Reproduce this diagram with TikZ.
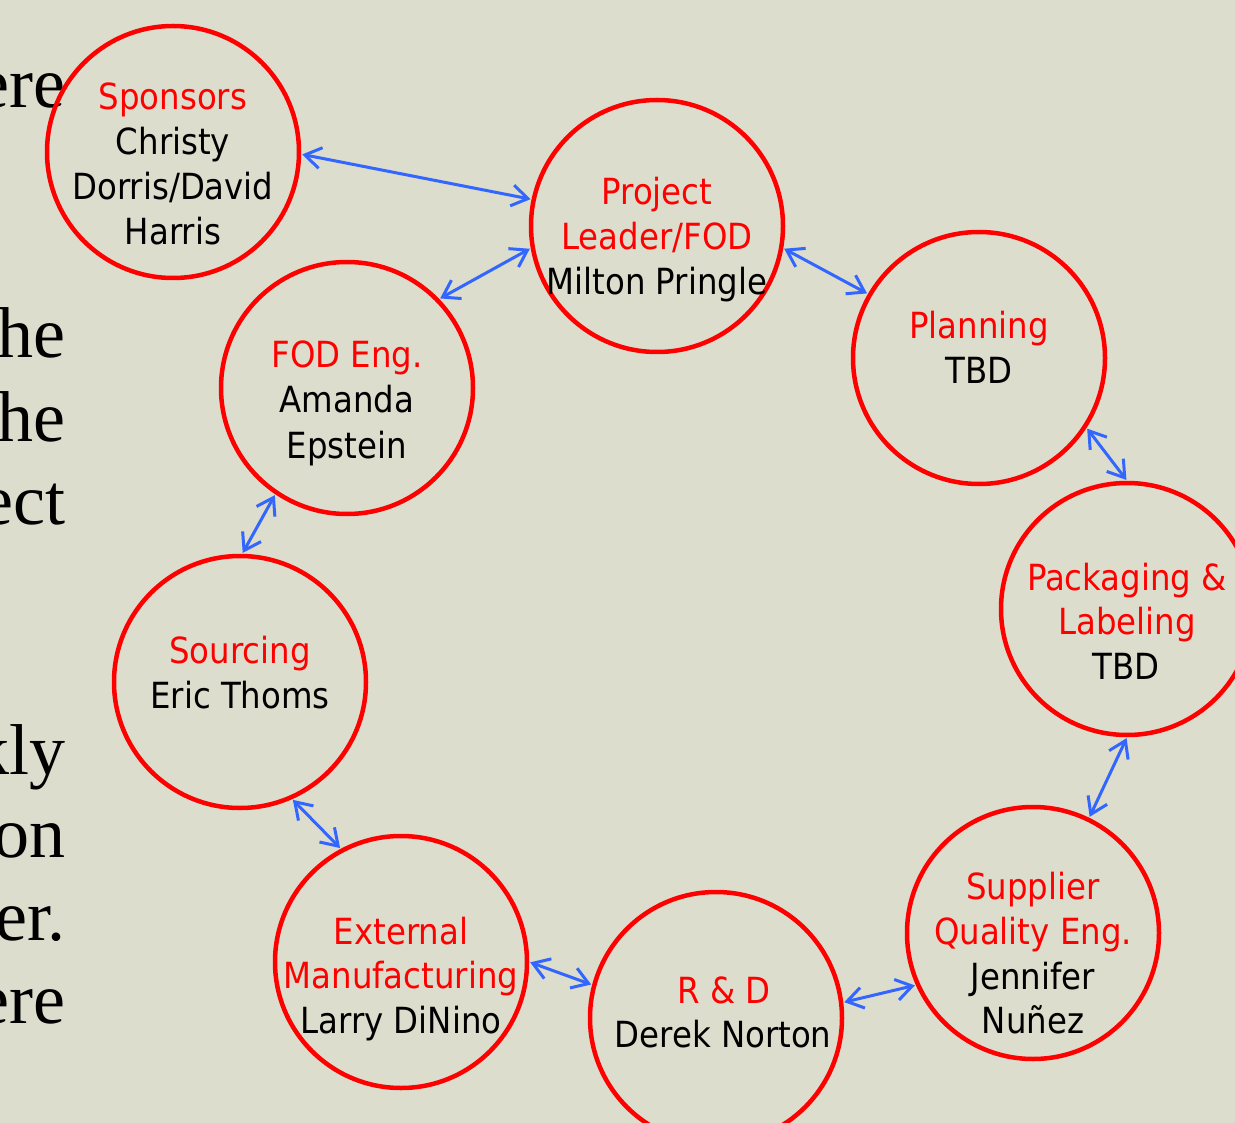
\documentclass[tikz,border=0pt]{standalone}
\usepackage{fontspec}
\setmainfont{DejaVu Sans Condensed}
\newfontfamily\bgserif{Liberation Serif}
\usetikzlibrary{arrows.meta}
\definecolor{bg}{RGB}{220,221,204}
\definecolor{lk}{RGB}{51,102,255}
\begin{document}
\begin{tikzpicture}[x=1pt,y=-1pt,
  ring/.style={circle,draw=red,line width=4.5pt,minimum size=252pt,inner sep=0pt},
  role/.style={anchor=base,text=red,font=\fontsize{36}{36}\selectfont,inner sep=0pt},
  who/.style={anchor=base,text=black,font=\fontsize{36}{36}\selectfont,inner sep=0pt},
  conn/.style={draw=lk,line width=3pt,{Straight Barb[length=16pt,width=21pt]}-{Straight Barb[length=16pt,width=21pt]},shorten <=1pt,shorten >=1pt},
  bgtext/.style={anchor=base east,font=\bgserif\fontsize{72}{72}\selectfont,inner sep=0pt}]
\fill[bg] (0,0) rectangle (1235,1123);
\clip (0,0) rectangle (1235,1123);
\useasboundingbox (0,0) rectangle (1235,1123);
% background slide text fragments
\node[bgtext] (b1) at (66,108) {ere};
\node[bgtext] (b2) at (66,358) {he};
\node[bgtext] (b3) at (66,441) {he};
\node[bgtext] (b4) at (66,524) {ect};
\node[bgtext] (b5) at (66,774) {kly};
\node[bgtext] (b6) at (66,857) {on};
\node[bgtext] (b7) at (66,940) {er.};
\node[bgtext] (b8) at (66,1023) {ere};
% circles
\node[ring] (sp) at (173,152) {};
\node[ring] (pl) at (657,226) {};
\node[ring] (pn) at (979,358) {};
\node[ring] (pk) at (1127,609) {};
\node[ring] (sq) at (1033,933) {};
\node[ring] (rd) at (716,1018) {};
\node[ring] (em) at (401,962) {};
\node[ring] (so) at (240,682) {};
\node[ring] (fe) at (347,388) {};
% texts
\node[role] (sp1) at (173,110) {Sponsors};
\node[who] (sp2) at (173,155) {Christy};
\node[who] (sp3) at (173,200) {Dorris/David};
\node[who] (sp4) at (173,245) {Harris};
\node[role] (pl1) at (657,205) {Project};
\node[role] (pl2) at (657,250) {Leader/FOD};
\node[who] (pl3) at (657,295) {Milton Pringle};
\node[role] (pn1) at (979,339) {Planning};
\node[who] (pn2) at (979,384) {TBD};
\node[role] (pk1) at (1127,590) {Packaging \&};
\node[role] (pk2) at (1127,634) {Labeling};
\node[who] (pk3) at (1126,679) {TBD};
\node[role] (sq1) at (1033,899) {Supplier};
\node[role] (sq2) at (1033,944) {Quality Eng.};
\node[who] (sq3) at (1033,989) {Jennifer};
\node[who] (sq4) at (1033,1033) {Nuñez};
\node[role] (rd1) at (724,1003) {R \& D};
\node[who] (rd2) at (723,1047) {Derek Norton};
\node[role] (em1) at (401,944) {External};
\node[role] (em2) at (401,988) {Manufacturing};
\node[who] (em3) at (401,1033) {Larry DiNino};
\node[role] (so1) at (240,663) {Sourcing};
\node[who] (so2) at (240,708) {Eric Thoms};
\node[role] (fe1) at (347,368) {FOD Eng.};
\node[who] (fe2) at (347,413) {Amanda};
\node[who] (fe3) at (347,458) {Epstein};
% connectors
\draw[conn] (sp.-1) -- (pl.168);
\draw[conn] (pl.190.5) -- (fe.44);
\draw[conn] (pl.-10.5) -- (pn.150);
\draw[conn] (pn.-33.7) -- (pk.90.5);
\draw[conn] (pk.-90) -- (sq.64.6);
\draw[conn] (sq.204) -- (rd.7.5);
\draw[conn] (rd.165) -- (em.-0.4);
\draw[conn] (em.118.6) -- (so.-66.6);
\draw[conn] (so.89.5) -- (fe.236.3);
\end{tikzpicture}
\end{document}
